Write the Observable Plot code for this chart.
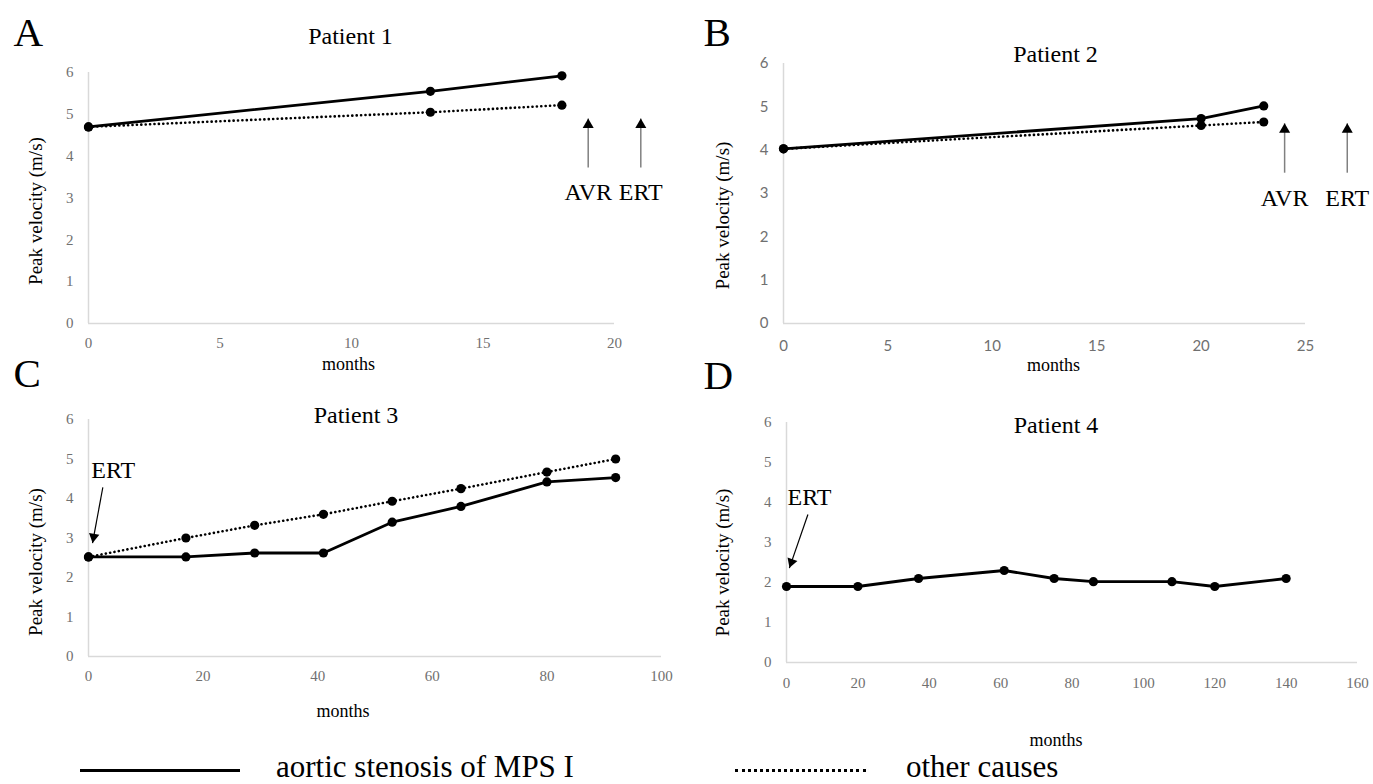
<!DOCTYPE html>
<html><head><meta charset="utf-8">
<script src="https://cdn.jsdelivr.net/npm/d3@7"></script>
<script src="https://cdn.jsdelivr.net/npm/@observablehq/plot@0.6"></script>
<style>
html,body{margin:0;padding:0;background:#fff;}
#root{position:relative;width:1373px;height:784px;overflow:hidden;font-family:"Liberation Serif","Times New Roman",serif;}
.panel{position:absolute;}
.leg-text{position:absolute;font-size:31px;line-height:31px;color:#000;white-space:nowrap;}
.leg-line{position:absolute;height:0;}
</style></head><body><div id="root"></div>
<script>
// ---------- data ----------
const yTicks = [0, 1, 2, 3, 4, 5, 6];
const seriesNames = ["aortic stenosis of MPS I", "other causes"];

// Patient 1
const monthsA = [0, 13, 18];
const mpsA = [4.7, 5.55, 5.92];
const otherA = [4.7, 5.05, 5.22];
const xTicksA = [0, 5, 10, 15, 20];
const eventsA = [{label: "AVR", month: 19}, {label: "ERT", month: 21}];

// Patient 2
const monthsB = [0, 20, 23];
const mpsB = [4.03, 4.73, 5.02];
const otherB = [4.03, 4.57, 4.65];
const xTicksB = [0, 5, 10, 15, 20, 25];
const eventsB = [{label: "AVR", month: 24}, {label: "ERT", month: 27}];

// Patient 3
const monthsC = [0, 17, 29, 41, 53, 65, 80, 92];
const mpsC = [2.52, 2.52, 2.62, 2.62, 3.4, 3.8, 4.42, 4.53];
const otherC = [2.52, 3.0, 3.32, 3.6, 3.93, 4.25, 4.67, 5.0];
const xTicksC = [0, 20, 40, 60, 80, 100];

// Patient 4
const monthsD = [0, 20, 37, 61, 75, 86, 108, 120, 140];
const mpsD = [1.9, 1.9, 2.1, 2.3, 2.1, 2.02, 2.02, 1.9, 2.1];
const xTicksD = [0, 20, 40, 60, 80, 100, 120, 140, 160];

// ---------- drawing ----------
const root = document.getElementById("root");
const SERIF = "Liberation Serif, Times New Roman, serif";
const SANS = "Lato, Liberation Sans, sans-serif";

function rows(months, vals) { return months.map((m, i) => ({month: m, v: vals[i]})); }

function makePanel(cfg) {
  const mpsRows = rows(cfg.months, cfg.mps);
  const otherRows = cfg.other ? rows(cfg.months, cfg.other) : [];
  const marks = [
    Plot.ruleY([0], {stroke: "#d9d9d9", strokeWidth: 1.5}),
    Plot.ruleX([0], {stroke: "#d9d9d9", strokeWidth: 1.5}),
    Plot.axisY(yTicks, {tickSize: 0, tickPadding: 15, fill: "#707070", fontSize: 15, fontFamily: cfg.tickFont, label: null}),
    Plot.axisX(cfg.xTicks, {tickSize: 0, tickPadding: cfg.xPad, fill: "#707070", fontSize: 15, fontFamily: cfg.tickFont, label: null}),
  ];
  if (cfg.other) {
    marks.push(Plot.line(otherRows, {x: "month", y: "v", stroke: "#000", strokeWidth: 2.6, strokeDasharray: "0.1 4.3", strokeLinecap: "round"}));
    marks.push(Plot.dot(otherRows, {x: "month", y: "v", r: 4.6, fill: "#000"}));
  }
  marks.push(Plot.line(mpsRows, {x: "month", y: "v", stroke: "#000", strokeWidth: 2.8}));
  marks.push(Plot.dot(mpsRows, {x: "month", y: "v", r: 4.6, fill: "#000"}));

  if (cfg.events) {
    const ev = cfg.events;
    marks.push(Plot.link(ev, {x1: "month", x2: "month", y1: cfg.evTail, y2: cfg.evTip, stroke: "#808080", strokeWidth: 1.5}));
    marks.push(Plot.dot(ev, {x: "month", y: cfg.evTip, symbol: "triangle", r: 4.1, fill: "#000", stroke: "none", dy: 6.3}));
    marks.push(Plot.text(ev, {x: "month", y: cfg.evLabelY, text: "label", fontSize: 24, fontFamily: SERIF, lineAnchor: "bottom", fill: "#000"}));
  }
  if (cfg.ert) {
    const a = cfg.ert;
    marks.push(Plot.link([a], {x1: "x1", y1: "y1", x2: "x2", y2: "y2", stroke: "#000", strokeWidth: 1.2}));
    marks.push(Plot.dot([a], {x: "x2", y: "y2", symbol: "triangle", r: 3.9, fill: "#000", stroke: "none", rotate: a.rot, dx: a.hdx, dy: a.hdy}));
    marks.push(Plot.text([a], {x: "tx", y: "ty", text: () => "ERT", fontSize: 24, fontFamily: SERIF, textAnchor: "start", lineAnchor: "bottom", fill: "#000"}));
  }
  // titles & labels
  marks.push(Plot.text([cfg.title], {text: d => d, frameAnchor: "top", textAnchor: "middle", lineAnchor: "bottom", fontSize: 24, fontFamily: SERIF, fill: "#000", dx: cfg.titleOff[0], dy: cfg.titleOff[1]}));
  marks.push(Plot.text([cfg.letter], {text: d => d, frameAnchor: "top-left", textAnchor: "start", lineAnchor: "bottom", fontSize: 41, fontFamily: SERIF, fill: "#000", dx: cfg.letterOff[0], dy: cfg.letterOff[1]}));
  marks.push(Plot.text(["Peak velocity (m/s)"], {text: d => d, frameAnchor: "left", textAnchor: "middle", rotate: -90, lineAnchor: "middle", fontSize: 19, fontFamily: SERIF, fill: "#000", dx: cfg.yLabOff[0], dy: cfg.yLabOff[1]}));
  marks.push(Plot.text(["months"], {text: d => d, frameAnchor: "bottom", textAnchor: "middle", lineAnchor: "middle", fontSize: 18, fontFamily: SERIF, fill: "#000", dx: cfg.xLabOff[0], dy: cfg.xLabOff[1]}));

  const chart = Plot.plot({
    width: cfg.box.w, height: cfg.box.h,
    marginLeft: cfg.m[0], marginRight: cfg.m[1], marginTop: cfg.m[2], marginBottom: cfg.m[3],
    x: {domain: [0, cfg.xMax]},
    y: {domain: [0, 6]},
    style: {background: "transparent", overflow: "visible", fontFamily: SERIF, color: "#000"},
    marks
  });
  const div = document.createElement("div");
  div.className = "panel";
  div.style.left = cfg.box.x + "px";
  div.style.top = cfg.box.y + "px";
  div.style.width = cfg.box.w + "px";
  div.style.height = cfg.box.h + "px";
  div.appendChild(chart);
  root.appendChild(div);
}

makePanel({
  letter: "A", title: "Patient 1", months: monthsA, mps: mpsA, other: otherA,
  xTicks: xTicksA, xMax: 20, tickFont: SERIF, xPad: 14,
  box: {x: 0, y: 0, w: 690, h: 380}, m: [88, 76, 72, 57],
  events: eventsA, evTail: () => 3.73, evTip: () => 4.9, evLabelY: () => 2.96,
  titleOff: [-1, -29], letterOff: [-75, -27], yLabOff: [-53, 13], xLabOff: [-3, 41]
});
makePanel({
  letter: "B", title: "Patient 2", months: monthsB, mps: mpsB, other: otherB,
  xTicks: xTicksB, xMax: 25, tickFont: SANS, xPad: 17,
  box: {x: 690, y: 0, w: 683, h: 380}, m: [93, 68, 63, 57],
  events: eventsB, evTail: () => 3.48, evTip: () => 4.62, evLabelY: () => 2.72,
  titleOff: [11, -2], letterOff: [-80, -18], yLabOff: [-61, 22], xLabOff: [9, 42]
});
makePanel({
  letter: "C", title: "Patient 3", months: monthsC, mps: mpsC, other: otherC,
  xTicks: xTicksC, xMax: 100, tickFont: SERIF, xPad: 14,
  box: {x: 0, y: 380, w: 690, h: 360}, m: [88, 29, 39, 84],
  ert: {x1: 2.5, y1: 4.28, x2: 0.7, y2: 2.87, tx: 0.5, ty: 4.53, rot: 190, hdx: 1.15, hdy: -6.2},
  titleOff: [-19, 3], letterOff: [-75, -33], yLabOff: [-53, 24], xLabOff: [-32, 55]
});
makePanel({
  letter: "D", title: "Patient 4", months: monthsD, mps: mpsD, other: null,
  xTicks: xTicksD, xMax: 160, tickFont: SERIF, xPad: 15,
  box: {x: 690, y: 380, w: 683, h: 360}, m: [96, 16, 42, 78],
  ert: {x1: 6.0, y1: 3.7, x2: 0.8, y2: 2.36, tx: 0.3, ty: 3.93, rot: 199.5, hdx: 2.1, hdy: -6.0},
  titleOff: [-16, 10], letterOff: [-83, -34], yLabOff: [-64, 20], xLabOff: [-16, 78]
});

// ---------- legend ----------
function legLine(x, w, style) {
  const d = document.createElement("div");
  d.className = "leg-line";
  d.style.left = x + "px"; d.style.top = "769px"; d.style.width = w + "px";
  d.style.borderTop = "3px " + style + " #000";
  root.appendChild(d);
}
function legText(x, t) {
  const d = document.createElement("div");
  d.className = "leg-text";
  d.style.left = x + "px"; d.style.top = "751px";
  d.textContent = t;
  root.appendChild(d);
}
legLine(80, 160, "solid");
legText(276, seriesNames[0]);
legLine(735, 131, "dotted");
legText(906, seriesNames[1]);
</script>
</body></html>
